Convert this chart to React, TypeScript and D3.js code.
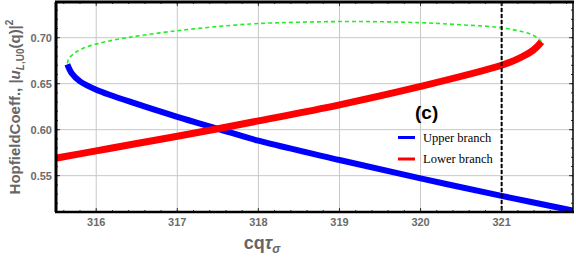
import React, { useEffect, useRef } from 'react';
import * as d3 from 'd3';

// values
const upperX = [315.644, 315.7, 315.8, 316.0, 316.5, 317.0, 317.5, 318.0, 319.0, 320.0, 321.0, 321.88];
const upperY = [0.671, 0.661, 0.6525, 0.6435, 0.628, 0.614, 0.601, 0.588, 0.567, 0.547, 0.528, 0.512];

const lowerX = [315.5, 316.0, 316.5, 317.0, 317.5, 318.0, 319.0, 320.0, 321.0, 321.2, 321.35, 321.44, 321.49];
const lowerY = [0.569, 0.577, 0.585, 0.5928, 0.601, 0.6095, 0.627, 0.647, 0.670, 0.677, 0.684, 0.6905, 0.6955];

const unstableX = [315.644, 315.66, 315.73, 315.84, 316.0, 316.25, 317.0, 317.9, 318.5, 319.2, 320.0, 320.5, 321.0, 321.35, 321.46, 321.49];
const unstableY = [0.672, 0.677, 0.683, 0.6885, 0.693, 0.698, 0.7076, 0.7149, 0.7168, 0.7176, 0.7163, 0.714, 0.7108, 0.704, 0.6985, 0.6955];

const xTicks = [316, 317, 318, 319, 320, 321];
const yTicks = [0.55, 0.6, 0.65, 0.7];
const markerX = 321;

const legendItems = [
  { label: 'Upper branch', color: '#0000ff' },
  { label: 'Lower branch', color: '#ff0000' },
];

const W = 576, H = 258;
const left = 56, right = 573, top = 2, bottom = 212;

export default function App() {
  const ref = useRef<SVGSVGElement>(null);

  useEffect(() => {
    const svg = d3.select(ref.current);
    svg.selectAll('*').remove();

    const x = d3.scaleLinear().domain([315.504, 321.88]).range([left, right]);
    const y = d3.scaleLinear().domain([0.5105, 0.7388]).range([bottom, top]);

    const defs = svg.append('defs');
    defs.append('clipPath').attr('id', 'plotclip')
      .append('rect').attr('x', left).attr('y', top).attr('width', right - left).attr('height', bottom - top);

    // grid
    const grid = svg.append('g').attr('stroke', '#c8c8c8').attr('stroke-width', 1);
    xTicks.forEach(t => {
      grid.append('line').attr('x1', x(t)).attr('x2', x(t)).attr('y1', top).attr('y2', bottom);
    });
    yTicks.forEach(t => {
      grid.append('line').attr('x1', left).attr('x2', right).attr('y1', y(t)).attr('y2', y(t));
    });

    const plot = svg.append('g').attr('clip-path', 'url(#plotclip)');
    const line = d3.line<[number, number]>()
      .x(d => x(d[0]))
      .y(d => y(d[1]))
      .curve(d3.curveCatmullRom.alpha(0.5));

    const zip = (a: number[], b: number[]) => a.map((v, i) => [v, b[i]] as [number, number]);

    plot.append('path')
      .attr('d', line(zip(unstableX, unstableY)))
      .attr('fill', 'none').attr('stroke', '#22ee22').attr('stroke-width', 1.6)
      .attr('stroke-dasharray', '4,3');

    plot.append('path')
      .attr('d', line(zip(upperX, upperY)))
      .attr('fill', 'none').attr('stroke', '#0000ff').attr('stroke-width', 6);

    plot.append('path')
      .attr('d', line(zip(lowerX, lowerY)))
      .attr('fill', 'none').attr('stroke', '#ff0000').attr('stroke-width', 7);

    // vertical marker
    svg.append('line')
      .attr('x1', x(markerX)).attr('x2', x(markerX)).attr('y1', top).attr('y2', bottom)
      .attr('stroke', '#000').attr('stroke-width', 2).attr('stroke-dasharray', '4,2');

    // ticks
    const ticks = svg.append('g').attr('stroke', '#333').attr('stroke-width', 1);
    const xMinor = d3.range(315.6, 321.9, 0.2);
    const yMinor = d3.range(0.52, 0.735, 0.01);
    xMinor.forEach(t => {
      ticks.append('line').attr('x1', x(t)).attr('x2', x(t)).attr('y1', bottom).attr('y2', bottom - 2);
      ticks.append('line').attr('x1', x(t)).attr('x2', x(t)).attr('y1', top).attr('y2', top + 2);
    });
    yMinor.forEach(t => {
      ticks.append('line').attr('x1', left).attr('x2', left + 2).attr('y1', y(t)).attr('y2', y(t));
      ticks.append('line').attr('x1', right).attr('x2', right - 2).attr('y1', y(t)).attr('y2', y(t));
    });
    xTicks.forEach(t => {
      ticks.append('line').attr('x1', x(t)).attr('x2', x(t)).attr('y1', bottom).attr('y2', bottom - 4);
      ticks.append('line').attr('x1', x(t)).attr('x2', x(t)).attr('y1', top).attr('y2', top + 4);
    });
    yTicks.forEach(t => {
      ticks.append('line').attr('x1', left).attr('x2', left + 4).attr('y1', y(t)).attr('y2', y(t));
      ticks.append('line').attr('x1', right).attr('x2', right - 4).attr('y1', y(t)).attr('y2', y(t));
    });

    // frame
    svg.append('line').attr('x1', left - 1).attr('x2', right + 1).attr('y1', top).attr('y2', top)
      .attr('stroke', '#000').attr('stroke-width', 3);
    svg.append('line').attr('x1', left - 1).attr('x2', right + 1).attr('y1', bottom).attr('y2', bottom)
      .attr('stroke', '#000').attr('stroke-width', 2.5);
    svg.append('line').attr('x1', left).attr('x2', left).attr('y1', top).attr('y2', bottom)
      .attr('stroke', '#000').attr('stroke-width', 3);
    svg.append('line').attr('x1', right).attr('x2', right).attr('y1', top).attr('y2', bottom)
      .attr('stroke', '#000').attr('stroke-width', 1.5);

    // tick labels
    const lab = svg.append('g').attr('font-family', 'Liberation Sans, Arial, sans-serif')
      .attr('font-size', 11).attr('font-weight', 'bold').attr('fill', '#6b6b6b');
    xTicks.forEach(t => {
      lab.append('text').attr('x', x(t)).attr('y', 226).attr('text-anchor', 'middle').text(d3.format('d')(t));
    });
    yTicks.forEach(t => {
      lab.append('text').attr('x', 52).attr('y', y(t) + 4).attr('text-anchor', 'end').text(d3.format('.2f')(t));
    });

    // axis titles
    const xt = svg.append('text').attr('x', 262).attr('y', 249).attr('text-anchor', 'middle')
      .attr('font-family', 'Liberation Sans, Arial, sans-serif').attr('font-weight', 'bold')
      .attr('font-size', 18).attr('fill', '#666');
    xt.append('tspan').text('cq');
    xt.append('tspan').attr('font-style', 'italic').text('τ');
    xt.append('tspan').attr('font-style', 'italic').attr('font-size', 12).attr('dy', 4).text('σ');

    const yt = svg.append('text').attr('transform', 'translate(20,107) rotate(-90)').attr('text-anchor', 'middle')
      .attr('font-family', 'Liberation Sans, Arial, sans-serif').attr('font-weight', 'bold')
      .attr('font-size', 15).attr('fill', '#666');
    yt.append('tspan').text('HopfieldCoeff., |');
    yt.append('tspan').attr('font-style', 'italic').text('u');
    yt.append('tspan').attr('font-size', 10).attr('dy', 4).attr('font-style', 'italic').text('L');
    yt.append('tspan').attr('font-size', 10).text(',U0');
    yt.append('tspan').attr('dy', -4).text('(q)|');
    yt.append('tspan').attr('font-size', 10).attr('dy', -7).text('2');

    // panel label
    svg.append('text').attr('x', 415).attr('y', 119)
      .attr('font-family', 'Liberation Sans, Arial, sans-serif').attr('font-weight', 'bold')
      .attr('font-size', 19).attr('fill', '#000').text('(c)');

    // legend
    const lg = svg.append('g');
    legendItems.forEach((d, i) => {
      const ly = 137.5 + i * 21.5;
      lg.append('line').attr('x1', 398).attr('x2', 415).attr('y1', ly).attr('y2', ly)
        .attr('stroke', d.color).attr('stroke-width', 3);
      lg.append('text').attr('x', 423).attr('y', ly + 4)
        .attr('font-family', 'Liberation Serif, Times New Roman, serif').attr('font-size', 12.5)
        .attr('fill', '#000').text(d.label);
    });
  }, []);

  return (
    <svg ref={ref} width={W} height={H}
      style={{ position: 'absolute', left: 0, top: 0, background: '#fff' }} />
  );
}
